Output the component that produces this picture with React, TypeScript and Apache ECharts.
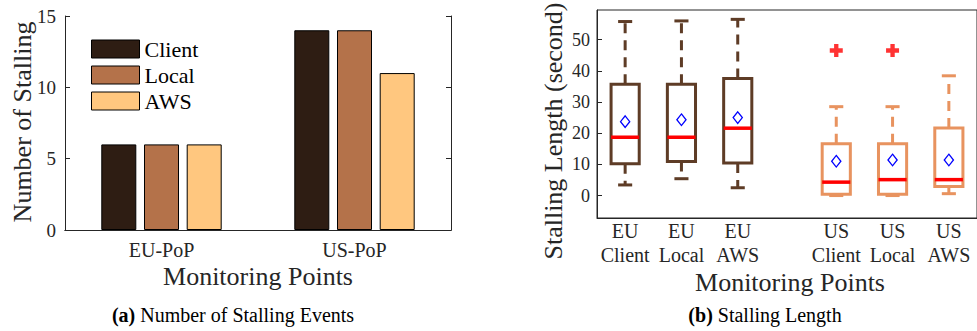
import React, { useEffect, useRef } from "react";
import * as echarts from "echarts";

// ---- Data: (a) Number of stalling events ----
const popCategories = ["EU-PoP", "US-PoP"];
const barSeriesNames = ["Client", "Local", "AWS"];
const clientCounts = [6, 14];
const localCounts = [6, 14];
const awsCounts = [6, 11];
const leftTicks = [0, 5, 10, 15];

// ---- Data: (b) Stalling length box plots ----
const boxLabels = ["EU\nClient", "EU\nLocal", "EU\nAWS", "US\nClient", "US\nLocal", "US\nAWS"];
const boxPositions = [1, 2, 3, 4.75, 5.75, 6.75];
const boxGroups = ["EU", "EU", "EU", "US", "US", "US"];
const whiskerLow = [3.4, 5.4, 2.5, 0, 0, 0.6];
const quartile1 = [10.2, 10.9, 10.4, 0.4, 0.4, 2.9];
const medians = [18.7, 18.7, 21.6, 4.3, 5.1, 5.1];
const quartile3 = [35.7, 35.7, 37.5, 16.6, 16.6, 21.7];
const whiskerHigh = [55.8, 56.0, 56.5, 28.5, 28.5, 38.4];
const means = [23.7, 24.3, 25.0, 11.0, 11.4, 11.4];
const outlierPositions = [4.75, 5.75];
const outlierValues = [46.5, 46.5];
const rightTicks = [0, 10, 20, 30, 40, 50];

const FONT = '"Liberation Serif", "Times New Roman", Times, serif';
const AXIS_COLOR = "#262626";
const BAR_COLORS = ["#2E1D13", "#B4724A", "#FFC77F"];
const GROUP_COLORS: Record<string, string> = { EU: "#5E3C26", US: "#E8935F" };
const BOX_WIDTH = 0.5;

export default function App() {
  const ref = useRef<HTMLDivElement>(null);

  useEffect(() => {
    if (!ref.current) return;
    const chart = echarts.init(ref.current, undefined, { renderer: "svg" });

    const barData = [clientCounts, localCounts, awsCounts];
    const boxData = boxPositions.map((p, i) => [
      p,
      whiskerLow[i],
      quartile1[i],
      medians[i],
      quartile3[i],
      whiskerHigh[i],
      means[i],
    ]);
    const outlierData = outlierPositions.map((p, i) => [p, outlierValues[i]]);

    const renderBox = (params: any, api: any) => {
      const i = params.dataIndex;
      const color = GROUP_COLORS[boxGroups[i]];
      const pos = api.value(0);
      const lo = api.value(1);
      const q1 = api.value(2);
      const med = api.value(3);
      const q3 = api.value(4);
      const hi = api.value(5);
      const mean = api.value(6);
      const half = api.size([BOX_WIDTH, 0])[0] / 2;
      const capHalf = half / 2;
      const pLo = api.coord([pos, lo]);
      const pQ1 = api.coord([pos, q1]);
      const pMed = api.coord([pos, med]);
      const pQ3 = api.coord([pos, q3]);
      const pHi = api.coord([pos, hi]);
      const pMean = api.coord([pos, mean]);
      const cx = pQ1[0];
      const lw = 3;
      const dW = 4.6;
      const dH = 5.8;
      return {
        type: "group",
        children: [
          {
            type: "line",
            shape: { x1: cx, y1: pQ3[1], x2: cx, y2: pHi[1] },
            style: { stroke: color, lineWidth: lw, lineDash: [10, 7] },
          },
          {
            type: "line",
            shape: { x1: cx, y1: pQ1[1], x2: cx, y2: pLo[1] },
            style: { stroke: color, lineWidth: lw, lineDash: [10, 7] },
          },
          {
            type: "line",
            shape: { x1: cx - capHalf, y1: pHi[1], x2: cx + capHalf, y2: pHi[1] },
            style: { stroke: color, lineWidth: lw },
          },
          {
            type: "line",
            shape: { x1: cx - capHalf, y1: pLo[1], x2: cx + capHalf, y2: pLo[1] },
            style: { stroke: color, lineWidth: lw },
          },
          {
            type: "rect",
            shape: { x: cx - half, y: pQ3[1], width: half * 2, height: pQ1[1] - pQ3[1] },
            style: { stroke: color, lineWidth: lw, fill: "none" },
          },
          {
            type: "line",
            shape: { x1: cx - half, y1: pMed[1], x2: cx + half, y2: pMed[1] },
            style: { stroke: "#FF0000", lineWidth: 3.5 },
          },
          {
            type: "polygon",
            shape: {
              points: [
                [cx, pMean[1] - dH],
                [cx + dW, pMean[1]],
                [cx, pMean[1] + dH],
                [cx - dW, pMean[1]],
              ],
            },
            style: { stroke: "#0000FF", lineWidth: 1.3, fill: "none" },
          },
        ],
      };
    };

    const option: any = {
      animation: false,
      backgroundColor: "#ffffff",
      textStyle: { fontFamily: FONT },
      grid: [
        { left: 65, top: 16, width: 386, height: 214, containLabel: false },
        {
          left: 597,
          top: 10,
          width: 385,
          height: 208,
          show: true,
          borderColor: AXIS_COLOR,
          borderWidth: 1,
          backgroundColor: "transparent",
          containLabel: false,
        },
      ],
      legend: {
        data: barSeriesNames,
        orient: "vertical",
        left: 91,
        top: 38,
        padding: 0,
        itemWidth: 48,
        itemHeight: 18,
        itemGap: 4,
        icon: "rect",
        itemStyle: { borderColor: "#000", borderWidth: 1 },
        textStyle: { fontSize: 22, lineHeight: 21, fontFamily: FONT, color: "#000" },
      },
      xAxis: [
        {
          type: "category",
          gridIndex: 0,
          data: popCategories,
          position: "bottom",
          axisLine: { lineStyle: { color: AXIS_COLOR, width: 1 } },
          axisTick: { inside: true, alignWithLabel: true, length: 5, lineStyle: { color: AXIS_COLOR } },
          axisLabel: { fontSize: 20, fontFamily: FONT, color: AXIS_COLOR, margin: 10 },
        },
        {
          type: "category",
          gridIndex: 0,
          data: popCategories,
          position: "top",
          axisLine: { lineStyle: { color: AXIS_COLOR, width: 1 } },
          axisTick: { inside: true, alignWithLabel: true, length: 5, lineStyle: { color: AXIS_COLOR } },
          axisLabel: { show: false },
        },
        {
          type: "value",
          gridIndex: 1,
          min: 0.5,
          max: 7.25,
          position: "bottom",
          splitLine: { show: false },
          axisLine: { show: true, onZero: false, lineStyle: { color: AXIS_COLOR, width: 1 } },
          axisTick: { show: false },
          axisLabel: {
            customValues: boxPositions,
            fontSize: 20,
            fontFamily: FONT,
            color: AXIS_COLOR,
            margin: 1,
            lineHeight: 24,
            showMinLabel: true,
            showMaxLabel: true,
            hideOverlap: false,
            formatter: (v: number) => {
              const idx = boxPositions.findIndex((p) => Math.abs(p - v) < 1e-6);
              return idx >= 0 ? boxLabels[idx] : "";
            },
          },
        },
      ],
      yAxis: [
        {
          type: "value",
          gridIndex: 0,
          min: leftTicks[0],
          max: leftTicks[leftTicks.length - 1],
          interval: 5,
          position: "left",
          splitLine: { show: false },
          axisLine: { show: true, lineStyle: { color: AXIS_COLOR, width: 1 } },
          axisTick: { show: true, inside: true, length: 5, lineStyle: { color: AXIS_COLOR } },
          axisLabel: { fontSize: 19, fontFamily: FONT, color: AXIS_COLOR, margin: 9 },
        },
        {
          type: "value",
          gridIndex: 0,
          min: leftTicks[0],
          max: leftTicks[leftTicks.length - 1],
          interval: 5,
          position: "right",
          splitLine: { show: false },
          axisLine: { show: true, lineStyle: { color: AXIS_COLOR, width: 1 } },
          axisTick: { show: true, inside: true, length: 5, lineStyle: { color: AXIS_COLOR } },
          axisLabel: { show: false },
        },
        {
          type: "value",
          gridIndex: 1,
          min: -7.2,
          max: 59.5,
          position: "left",
          splitLine: { show: false },
          axisLine: { show: true, onZero: false, lineStyle: { color: AXIS_COLOR, width: 1 } },
          axisTick: {
            show: true,
            inside: true,
            length: 5,
            customValues: rightTicks,
            lineStyle: { color: AXIS_COLOR },
          },
          axisLabel: {
            customValues: rightTicks,
            fontSize: 18,
            fontFamily: FONT,
            color: AXIS_COLOR,
            margin: 7,
          },
        },
      ],
      series: [
        ...barSeriesNames.map((name, s) => ({
          name,
          type: "bar",
          xAxisIndex: 0,
          yAxisIndex: 0,
          data: barData[s],
          barWidth: 35,
          barGap: "22%",
          itemStyle: { color: BAR_COLORS[s], borderColor: "#000", borderWidth: 1 },
        })),
        {
          type: "custom",
          xAxisIndex: 2,
          yAxisIndex: 2,
          data: boxData,
          renderItem: renderBox,
          encode: { x: 0, y: [1, 2, 3, 4, 5, 6] },
          z: 3,
        },
        {
          type: "scatter",
          xAxisIndex: 2,
          yAxisIndex: 2,
          data: outlierData,
          symbol: "path://M4,0H8V4H12V8H8V12H4V8H0V4H4Z",
          symbolSize: 13,
          itemStyle: { color: "#FF0000" },
          z: 4,
        },
      ],
      graphic: [
        {
          type: "text",
          x: 22,
          y: 122,
          rotation: Math.PI / 2,
          style: {
            text: "Number of Stalling",
            fontSize: 26,
            fontFamily: FONT,
            fill: AXIS_COLOR,
            align: "center",
            verticalAlign: "middle",
          },
        },
        {
          type: "text",
          x: 258,
          y: 276,
          style: {
            text: "Monitoring Points",
            fontSize: 26,
            fontFamily: FONT,
            fill: AXIS_COLOR,
            align: "center",
            verticalAlign: "middle",
          },
        },
        {
          type: "text",
          x: 233,
          y: 315,
          style: {
            text: "{b|(a)} Number of Stalling Events",
            fontSize: 20,
            fontFamily: FONT,
            fill: "#000",
            align: "center",
            verticalAlign: "middle",
            rich: { b: { fontWeight: "bold", fontSize: 20, fontFamily: FONT, fill: "#000" } },
          },
        },
        {
          type: "text",
          x: 553,
          y: 131,
          rotation: Math.PI / 2,
          style: {
            text: "Stalling Length (second)",
            fontSize: 26,
            fontFamily: FONT,
            fill: AXIS_COLOR,
            align: "center",
            verticalAlign: "middle",
          },
        },
        {
          type: "text",
          x: 790,
          y: 282,
          style: {
            text: "Monitoring Points",
            fontSize: 26,
            fontFamily: FONT,
            fill: AXIS_COLOR,
            align: "center",
            verticalAlign: "middle",
          },
        },
        {
          type: "text",
          x: 765,
          y: 315,
          style: {
            text: "{b|(b)} Stalling Length",
            fontSize: 20,
            fontFamily: FONT,
            fill: "#000",
            align: "center",
            verticalAlign: "middle",
            rich: { b: { fontWeight: "bold", fontSize: 20, fontFamily: FONT, fill: "#000" } },
          },
        },
      ],
    };

    chart.setOption(option);
    return () => {
      chart.dispose();
    };
  }, []);

  return (
    <div
      ref={ref}
      style={{ position: "absolute", left: 0, top: 0, width: 977, height: 331, background: "#fff" }}
    />
  );
}
